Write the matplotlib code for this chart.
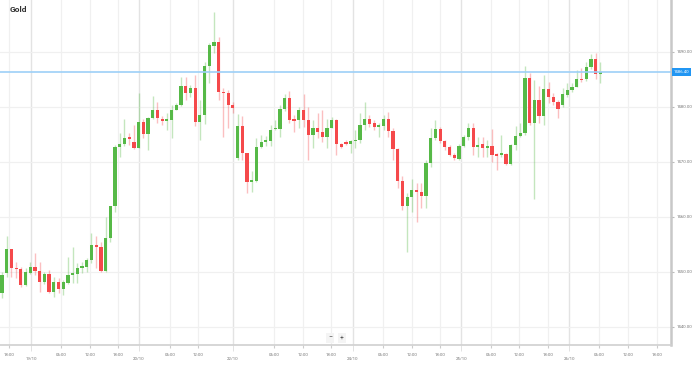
import matplotlib
matplotlib.use("Agg")
import matplotlib.pyplot as plt
import numpy as np

plt.rcParams['font.family'] = ['Roboto', 'DejaVu Sans']

title = "Gold"
opens = [1446.2, 1449.8, 1454.2, 1450.7, 1450.5, 1447.6, 1449.8, 1450.9, 1450.2, 1448.2,
         1449.6, 1446.4, 1448.2, 1446.9, 1448.0, 1449.5, 1449.6, 1450.7, 1450.9, 1452.2,
         1454.9, 1454.5, 1450.2, 1456.2, 1462.0, 1472.7, 1473.3, 1474.5, 1473.6, 1472.5,
         1477.3, 1475.1, 1478.0, 1479.5, 1477.8, 1477.5, 1477.6, 1479.5, 1480.4, 1483.8,
         1482.5, 1483.5, 1477.3, 1478.5, 1487.5, 1491.1, 1491.8, 1482.7, 1482.5, 1480.4,
         1470.7, 1476.5, 1471.6, 1466.4, 1466.5, 1472.7, 1473.6, 1473.8, 1476.0, 1476.0,
         1479.6, 1481.6, 1477.8, 1477.6, 1479.5, 1477.6, 1474.9, 1476.2, 1475.5, 1474.5,
         1476.2, 1477.6, 1473.3, 1473.6, 1473.3, 1473.8, 1474.0, 1476.7, 1477.8, 1477.1,
         1476.4, 1476.5, 1477.8, 1475.6, 1472.4, 1466.5, 1462.0, 1463.6, 1464.9, 1464.5,
         1463.8, 1469.8, 1474.4, 1476.0, 1473.8, 1472.7, 1471.3, 1470.5, 1472.9, 1474.5,
         1476.2, 1472.7, 1473.3, 1472.5, 1472.9, 1471.5, 1471.3, 1471.5, 1469.6, 1473.1,
         1474.7, 1475.3, 1485.3, 1477.1, 1481.3, 1478.4, 1483.3, 1481.8, 1480.9, 1480.4,
         1482.2, 1483.1, 1483.6, 1485.1, 1485.1, 1487.3, 1488.7, 1486.0]
highs = [1450.0, 1456.5, 1454.2, 1451.8, 1450.9, 1450.7, 1451.8, 1453.5, 1451.8, 1450.0,
         1450.4, 1449.1, 1448.9, 1448.5, 1452.7, 1454.5, 1451.6, 1451.8, 1452.5, 1457.1,
         1456.5, 1455.5, 1460.0, 1462.0, 1473.1, 1475.3, 1477.8, 1475.3, 1476.7, 1482.5,
         1477.8, 1478.2, 1482.0, 1480.9, 1478.4, 1478.9, 1480.4, 1480.7, 1485.5, 1485.5,
         1484.0, 1485.8, 1481.3, 1488.2, 1491.6, 1497.3, 1492.7, 1483.5, 1483.1, 1480.9,
         1478.7, 1478.4, 1471.6, 1468.4, 1474.4, 1474.9, 1474.7, 1476.7, 1477.6, 1480.4,
         1482.4, 1482.9, 1478.5, 1480.0, 1482.4, 1480.0, 1477.6, 1478.9, 1479.5, 1477.8,
         1478.2, 1477.8, 1473.5, 1474.0, 1474.0, 1475.8, 1478.9, 1480.9, 1478.5, 1477.6,
         1477.1, 1478.5, 1479.1, 1476.2, 1472.5, 1467.5, 1464.4, 1466.9, 1466.2, 1466.2,
         1470.4, 1476.2, 1477.6, 1476.4, 1474.0, 1473.1, 1471.6, 1473.3, 1474.9, 1477.1,
         1477.1, 1474.5, 1474.5, 1474.0, 1476.0, 1471.6, 1474.9, 1471.6, 1473.3, 1476.5,
         1477.1, 1487.5, 1486.2, 1484.9, 1483.8, 1485.8, 1484.5, 1482.5, 1481.3, 1483.5,
         1484.4, 1484.4, 1486.7, 1487.1, 1488.2, 1489.6, 1489.8, 1488.2]
lows = [1445.3, 1449.1, 1449.1, 1448.9, 1447.3, 1447.5, 1449.6, 1449.5, 1446.4, 1447.8,
        1446.2, 1445.5, 1446.2, 1445.8, 1447.8, 1448.0, 1448.0, 1449.8, 1450.0, 1451.6,
        1450.7, 1450.0, 1450.0, 1455.5, 1460.9, 1470.9, 1472.9, 1473.1, 1472.4, 1472.5,
        1474.4, 1472.2, 1477.8, 1477.1, 1476.7, 1475.8, 1474.4, 1479.5, 1480.2, 1481.3,
        1481.8, 1476.5, 1474.0, 1476.9, 1484.4, 1489.8, 1481.3, 1474.5, 1476.2, 1478.9,
        1470.4, 1470.4, 1464.4, 1464.5, 1466.4, 1472.5, 1472.9, 1472.9, 1475.8, 1474.5,
        1479.3, 1477.1, 1475.5, 1476.2, 1476.4, 1470.4, 1472.5, 1474.4, 1473.6, 1472.5,
        1476.2, 1471.3, 1472.5, 1473.1, 1471.6, 1472.5, 1473.5, 1475.8, 1476.4, 1475.8,
        1474.5, 1475.8, 1474.5, 1470.4, 1465.3, 1461.3, 1453.6, 1460.9, 1459.1, 1461.6,
        1461.6, 1469.1, 1474.0, 1473.5, 1472.2, 1471.1, 1470.4, 1470.4, 1472.7, 1474.0,
        1471.3, 1470.9, 1470.9, 1470.9, 1470.0, 1468.5, 1470.9, 1469.5, 1469.5, 1472.2,
        1474.5, 1474.9, 1476.7, 1463.3, 1477.1, 1476.7, 1480.7, 1480.4, 1478.0, 1480.0,
        1481.8, 1482.7, 1483.6, 1484.5, 1484.7, 1486.9, 1485.1, 1484.4]
closes = [1449.5, 1454.2, 1450.7, 1450.5, 1447.6, 1450.0, 1450.9, 1450.2, 1448.2, 1449.6,
          1446.4, 1448.2, 1446.9, 1448.2, 1449.5, 1449.8, 1450.7, 1451.1, 1452.2, 1454.9,
          1454.5, 1450.2, 1456.2, 1462.0, 1472.7, 1473.3, 1474.4, 1474.2, 1472.5, 1477.3,
          1475.1, 1478.0, 1479.5, 1478.0, 1477.5, 1477.6, 1479.5, 1480.4, 1483.8, 1482.5,
          1483.5, 1477.3, 1478.5, 1487.5, 1491.3, 1491.8, 1482.7, 1482.5, 1480.4, 1479.8,
          1476.5, 1471.6, 1466.4, 1466.5, 1472.7, 1473.6, 1474.0, 1475.8, 1476.2, 1479.6,
          1481.6, 1477.6, 1477.5, 1479.5, 1477.6, 1474.9, 1476.2, 1475.5, 1474.5, 1476.2,
          1477.6, 1473.3, 1472.7, 1473.3, 1473.8, 1474.0, 1476.7, 1477.8, 1476.9, 1476.4,
          1476.5, 1477.8, 1475.6, 1472.4, 1466.5, 1462.0, 1463.6, 1464.9, 1464.5, 1463.8,
          1469.8, 1474.4, 1476.0, 1473.8, 1472.7, 1471.3, 1470.7, 1472.9, 1474.5, 1476.2,
          1472.7, 1473.1, 1472.5, 1472.9, 1471.3, 1471.1, 1471.5, 1469.6, 1473.1, 1474.7,
          1475.3, 1485.3, 1477.1, 1481.3, 1478.4, 1483.3, 1481.8, 1480.9, 1479.6, 1482.4,
          1483.1, 1483.6, 1485.1, 1484.9, 1487.3, 1488.7, 1486.0, 1486.4]

time_tick_pos = [1.5, 12.5, 18.7, 24.6, 35.7, 41.6, 57.8, 63.9, 69.9, 80.9, 87.0, 93.0,
                 103.8, 109.8, 115.9, 126.8, 132.9, 139.1]
time_tick_labels = ["18:00", "06:00", "12:00", "18:00", "06:00", "12:00", "06:00", "12:00",
                    "18:00", "06:00", "12:00", "18:00", "06:00", "12:00", "18:00", "06:00",
                    "12:00", "18:00"]
date_tick_pos = [6.2, 29.1, 49.0, 74.5, 97.5, 120.4]
date_tick_labels = ["19/10", "20/10", "22/10", "24/10", "25/10", "26/10"]
price_ticks = [1440, 1450, 1460, 1470, 1480, 1490]

GREEN = "#56b947"
RED = "#f5494b"

fig = plt.figure(figsize=(6.99, 3.65), dpi=100)
ax = fig.add_axes([0.0, 20 / 365, 671 / 699, 345 / 365])
ax.set_facecolor("white")

x = np.arange(len(opens))
o = np.array(opens); h = np.array(highs); l = np.array(lows); c = np.array(closes)
up = c >= o
col = np.where(up, GREEN, RED)

ax.vlines(x, l, h, colors=col, linewidth=1.0, alpha=0.35, zorder=2)
body_bottom = np.minimum(o, c)
body_h = np.maximum(np.abs(c - o), 0.25)
ax.bar(x, body_h, bottom=body_bottom, width=0.68, color=col, linewidth=0, zorder=3)

price = closes[-1]
ax.axhline(price, color="#9dd0f7", linewidth=1.2, zorder=4)
ax.text(1.004, price, f"{price:.2f}", transform=ax.get_yaxis_transform(), color="white",
        fontsize=3.2, va="center", ha="left", clip_on=False,
        bbox=dict(boxstyle="square,pad=0.45", fc="#2196f3", ec="none"), zorder=6)

ax.set_xlim(-0.42, 142.0)
ax.set_ylim(1436.7, 1499.45)

ax.set_xticks(time_tick_pos)
ax.set_xticklabels(time_tick_labels)
ax.set_xticks(date_tick_pos, minor=True)
ax.set_xticklabels(date_tick_labels, minor=True)
ax.tick_params(axis="x", which="major", labelsize=3.2, labelcolor="#777777", length=2.5,
               color="#cccccc", pad=3)
ax.tick_params(axis="x", which="minor", labelsize=3.2, labelcolor="#777777", length=4,
               color="#dddddd", pad=5)

ax.yaxis.tick_right()
ax.set_yticks(price_ticks)
ax.set_yticklabels([f"{v:.2f}" for v in price_ticks])
ax.tick_params(axis="y", labelsize=3.2, labelcolor="#777777", length=2.5, color="#bbbbbb", pad=1.5)

ax.grid(True, which="major", axis="both", color="#f0f0f0", linewidth=0.9)
ax.grid(True, which="minor", axis="x", color="#e3e3e3", linewidth=1.0)
ax.set_axisbelow(True)

for s in ["top", "left"]:
    ax.spines[s].set_visible(False)
ax.spines["right"].set_color("#c8c8c8")
ax.spines["right"].set_linewidth(1.8)
ax.spines["bottom"].set_color("#d0d0d0")
ax.spines["bottom"].set_linewidth(1.2)

fig.text(10 / 699, 1 - 10 / 365, title, fontsize=6, fontweight="bold", color="#333333",
         ha="left", va="center")

fig.text(330 / 699, 1 - 338 / 365, "\u2212", fontsize=5, color="#555555", ha="center", va="center",
         bbox=dict(boxstyle="square,pad=0.25", fc="#f4f4f4", ec="none"))
fig.text(342 / 699, 1 - 338 / 365, "+", fontsize=5, color="#555555", ha="center", va="center",
         bbox=dict(boxstyle="square,pad=0.25", fc="#f4f4f4", ec="none"))

fig.savefig("out.png", dpi=100, facecolor="white")
